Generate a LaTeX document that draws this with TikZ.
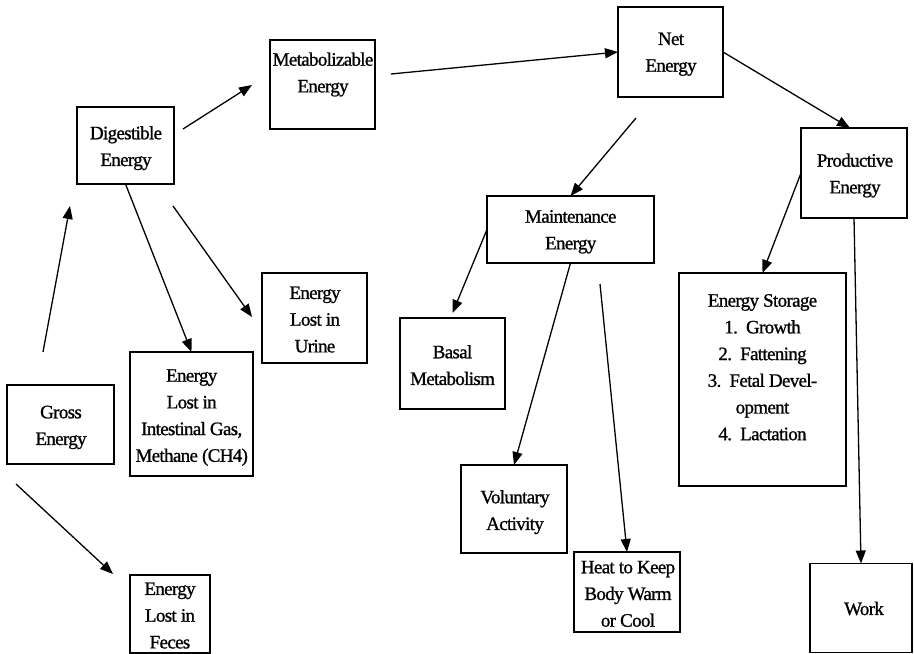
\documentclass[tikz,border=0pt]{standalone}
\usepackage{fontspec}
\setmainfont{Liberation Serif}[LetterSpace=-3.5,FakeBold=1]
\usetikzlibrary{arrows.meta}
\tikzset{
  box/.style={draw, line width=1.4bp, inner sep=0pt, outer sep=0pt},
  txt/.style={align=center, inner sep=0pt, outer sep=0pt, anchor=north,
              font=\fontsize{19bp}{26.7bp}\selectfont},
  arr/.style={line width=1.3bp, -{Triangle[length=13bp,width=10bp]}}
}
\begin{document}
\begin{tikzpicture}[x=1bp,y=-1bp]
\useasboundingbox (0,0) rectangle (914,654);
% boxes
\node[box, minimum width=107bp, minimum height=79bp] (gross) at (60.5,424.5) {};
\node[box, minimum width=97bp, minimum height=77bp] (dig) at (125.5,145.5) {};
\node[box, minimum width=105bp, minimum height=89bp] (metab) at (322.5,84.5) {};
\node[box, minimum width=105bp, minimum height=90bp] (net) at (670.5,52) {};
\node[box, minimum width=106bp, minimum height=90bp] (prod) at (854,173) {};
\node[box, minimum width=167bp, minimum height=67bp] (maint) at (570.5,229.5) {};
\node[box, minimum width=105bp, minimum height=90bp] (urine) at (314.5,318) {};
\node[box, minimum width=123bp, minimum height=124bp] (gas) at (191.5,414) {};
\node[box, minimum width=80bp, minimum height=78bp] (feces) at (170,614) {};
\node[box, minimum width=105bp, minimum height=91bp] (basal) at (452.5,363.5) {};
\node[box, minimum width=106bp, minimum height=88bp] (vol) at (514,509) {};
\node[box, minimum width=106bp, minimum height=80bp] (heat) at (627,592) {};
\node[box, minimum width=167bp, minimum height=213bp] (store) at (762.5,379.5) {};
\node[box, minimum width=102bp, minimum height=89bp] (work) at (861,608) {};
% texts
\node[txt] (grossT) at (61,399.6) {\strut Gross\\Energy};
\node[txt] (digT) at (126,120.6) {\strut Digestible\\Energy};
\node[txt] (metabT) at (323,47) {\strut Metabolizable\\Energy};
\node[txt] (netT) at (671,26.3) {\strut Net\\Energy};
\node[txt] (prodT) at (855,148) {\strut Productive\\Energy};
\node[txt] (maintT) at (570.7,204) {\strut Maintenance\\Energy};
\node[txt] (urineT) at (315,280.3) {\strut Energy\\Lost in\\Urine};
\node[txt] (gasT) at (191.7,363) {\strut Energy\\Lost in\\Intestinal Gas,\\Methane (CH4)};
\node[txt] (fecesT) at (170,576.3) {\strut Energy\\Lost in\\Feces};
\node[txt] (basalT) at (452.5,339.6) {\strut Basal\\Metabolism};
\node[txt] (volT) at (515,484.6) {\strut Voluntary\\Activity};
\node[txt] (heatT) at (628,554.6) {\strut Heat to Keep\\Body Warm\\or Cool};
\node[txt] (storeT) at (762.5,288) {\strut Energy Storage\\1.\ \ Growth\\2.\ \ Fattening\\3.\ \ Fetal Devel-\\opment\\4.\ \ Lactation};
\node[txt] (workT) at (864,596.3) {\strut Work};
% free ends
\coordinate (a1s) at (43,352);  \coordinate (a1e) at (70,206);
\coordinate (a2s) at (16,484);  \coordinate (a2e) at (113,574);
\coordinate (a3s) at (183,129); \coordinate (a3e) at (252,85);
\coordinate (a5s) at (173,206); \coordinate (a5e) at (252,317);
\coordinate (a6s) at (391,74);
\coordinate (a8s) at (636,118);
\coordinate (a11s) at (600,284);
% connectors
\draw[arr] (a1s) -- (a1e);
\draw[arr] (a2s) -- (a2e);
\draw[arr] (a3s) -- (a3e);
\draw[arr] (dig.south) -- (gas.north);
\draw[arr] (a5s) -- (a5e);
\draw[arr] (a6s) -- (net.west);
\draw[arr] (net.east) -- ([xshift=-4bp]prod.north);
\draw[arr] (a8s) -- (maint.north);
\draw[arr] (maint.west) -- ([yshift=5bp]basal.north);
\draw[arr] (maint.south) -- (vol.north);
\draw[arr] (a11s) -- (heat.north);
\draw[arr] (prod.west) -- (store.north);
\draw[arr] (prod.south) -- (work.north);
\end{tikzpicture}
\end{document}
